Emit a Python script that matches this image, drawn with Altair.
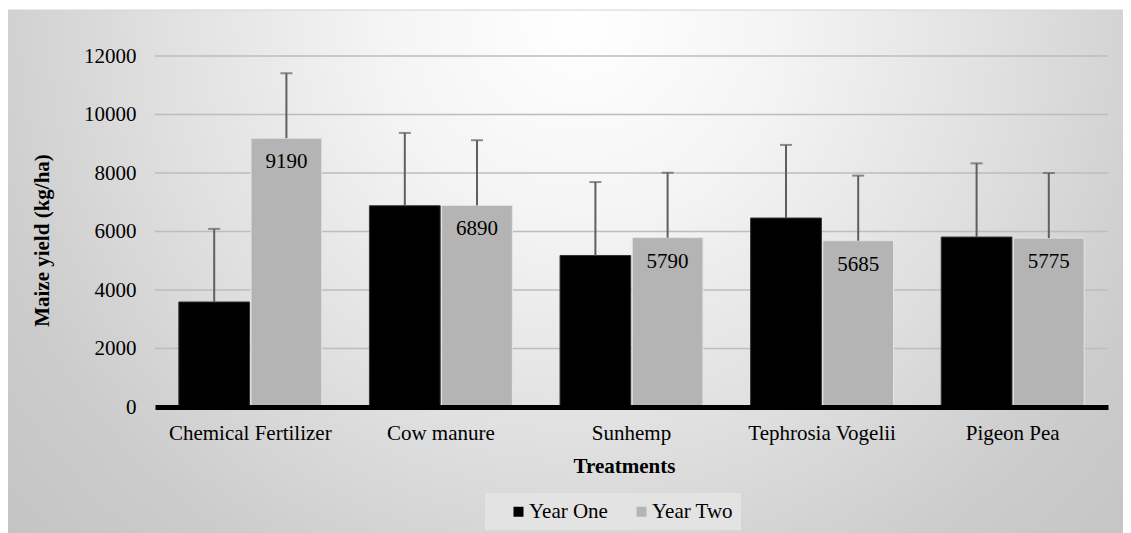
import altair as alt
import pandas as pd

treatments = ["Chemical Fertilizer", "Cow manure", "Sunhemp", "Tephrosia Vogelii", "Pigeon Pea"]
years = ["Year One", "Year Two"]
year_one = [3590, 6880, 5180, 6460, 5810]
year_two = [9190, 6890, 5790, 5685, 5775]
err_one = [2500, 2490, 2510, 2500, 2520]
err_two = [2220, 2230, 2220, 2225, 2225]
y_ticks = [0, 2000, 4000, 6000, 8000, 10000, 12000]

rows = []
for i, t in enumerate(treatments):
    rows.append({"Treatment": t, "Year": years[0], "Yield": year_one[i], "Err": err_one[i]})
    rows.append({"Treatment": t, "Year": years[1], "Yield": year_two[i], "Err": err_two[i]})
df = pd.DataFrame(rows)
df["Top"] = df["Yield"] + df["Err"]
df["Label"] = df["Yield"].astype(str)

grid_df = pd.DataFrame({"v": y_ticks[1:]})
bg_df = pd.DataFrame({"bg": [0]})

W, H = 953, 351
FONT = "Liberation Serif"

x_axis = alt.Axis(
    title="Treatments", labelAngle=0, labelFont=FONT, labelFontSize=21, labelColor="black",
    labelPadding=32, labelBaseline="alphabetic", ticks=False, tickSize=0,
    domainColor="black", domainWidth=5, grid=False, labelLimit=400,
    titleFont=FONT, titleFontSize=21, titleFontWeight="bold", titleColor="black",
    titleX=469, titleY=59, titleBaseline="middle", titleAlign="center", zindex=1,
)
y_axis = alt.Axis(
    title="Maize yield (kg/ha)", values=y_ticks, format="d", labelFont=FONT, labelFontSize=21,
    labelColor="black", labelPadding=19, ticks=False, tickSize=0, domain=False, grid=False,
    titleFont=FONT, titleFontSize=21, titleFontWeight="bold", titleColor="black",
    titleX=-113, titleY=184, titleAngle=270, titleAlign="center", titleBaseline="middle",
    zindex=1,
)

x_scale = alt.Scale(paddingInner=0.25, paddingOuter=0.125)
y_scale = alt.Scale(domain=[0, 12000], nice=False)


def xe():
    return alt.X("Treatment:N", sort=treatments, scale=x_scale, axis=x_axis)


def ye(field):
    return alt.Y(field, scale=y_scale, axis=y_axis)


xo = alt.XOffset("Year:N", sort=years, scale=alt.Scale(paddingInner=0.02, paddingOuter=0))

gradient = {
    "gradient": "radial",
    "x1": 0.512, "y1": 0.009, "r1": 0,
    "x2": 0.512, "y2": 0.009, "r2": 0.6875,
    "stops": [
        {"offset": 0, "color": "#ffffff"},
        {"offset": 0.26, "color": "#f4f4f4"},
        {"offset": 0.545, "color": "#e0e0e0"},
        {"offset": 0.675, "color": "#d6d6d6"},
        {"offset": 0.805, "color": "#cccccc"},
        {"offset": 1, "color": "#c4c4c4"},
    ],
}

background = alt.Chart(bg_df).mark_rect(fill=gradient, stroke="#d4d4d4", strokeWidth=1).encode(
    x=alt.value(-148), x2=alt.value(972), y=alt.value(-46), y2=alt.value(1074)
)

gridlines = alt.Chart(grid_df).mark_rule(color="#bdbdbd", strokeWidth=1.5).encode(
    y=ye("v:Q")
)

bars = alt.Chart(df).mark_bar(strokeWidth=1).encode(
    x=xe(),
    xOffset=xo,
    y=ye("Yield:Q"),
    color=alt.Color(
        "Year:N",
        scale=alt.Scale(domain=years, range=["#000000", "#b4b4b4"]),
        legend=alt.Legend(
            title=None, orient="none", legendX=330, legendY=437, direction="horizontal",
            symbolType="square", symbolSize=100, symbolStrokeWidth=0,
            labelFont=FONT, labelFontSize=21, labelColor="black",
            fillColor="#e3e3e3", padding=8, symbolOffset=15, columnPadding=8,
            labelOffset=0, zindex=1,
        ),
    ),
    stroke=alt.Stroke("Year:N", scale=alt.Scale(domain=years, range=["#333333", "#e4e4e4"]), legend=None),
)

err_rules = alt.Chart(df).mark_rule(color="#5f5f5f", strokeWidth=2).encode(
    x=xe(), xOffset=xo,
    y=ye("Yield:Q"), y2="Top:Q",
)

caps = alt.Chart(df).mark_tick(color="#5f5f5f", thickness=2, size=12).encode(
    x=xe(), xOffset=xo,
    y=ye("Top:Q"),
)

labels = alt.Chart(df).transform_filter(alt.datum.Year == "Year Two").mark_text(
    font=FONT, fontSize=21, color="black", baseline="middle", dy=24
).encode(
    x=xe(), xOffset=xo,
    y=ye("Yield:Q"),
    text="Label:N",
)

chart = alt.layer(background, gridlines, bars, err_rules, caps, labels).properties(
    width=W, height=H,
    autosize=alt.AutoSizeParams(type="none"),
    padding={"left": 147, "top": 48, "right": 15, "bottom": 126},
    background="white",
).configure_view(strokeWidth=0)

chart.save("out.html", embed_options={"renderer": "svg", "actions": False})
